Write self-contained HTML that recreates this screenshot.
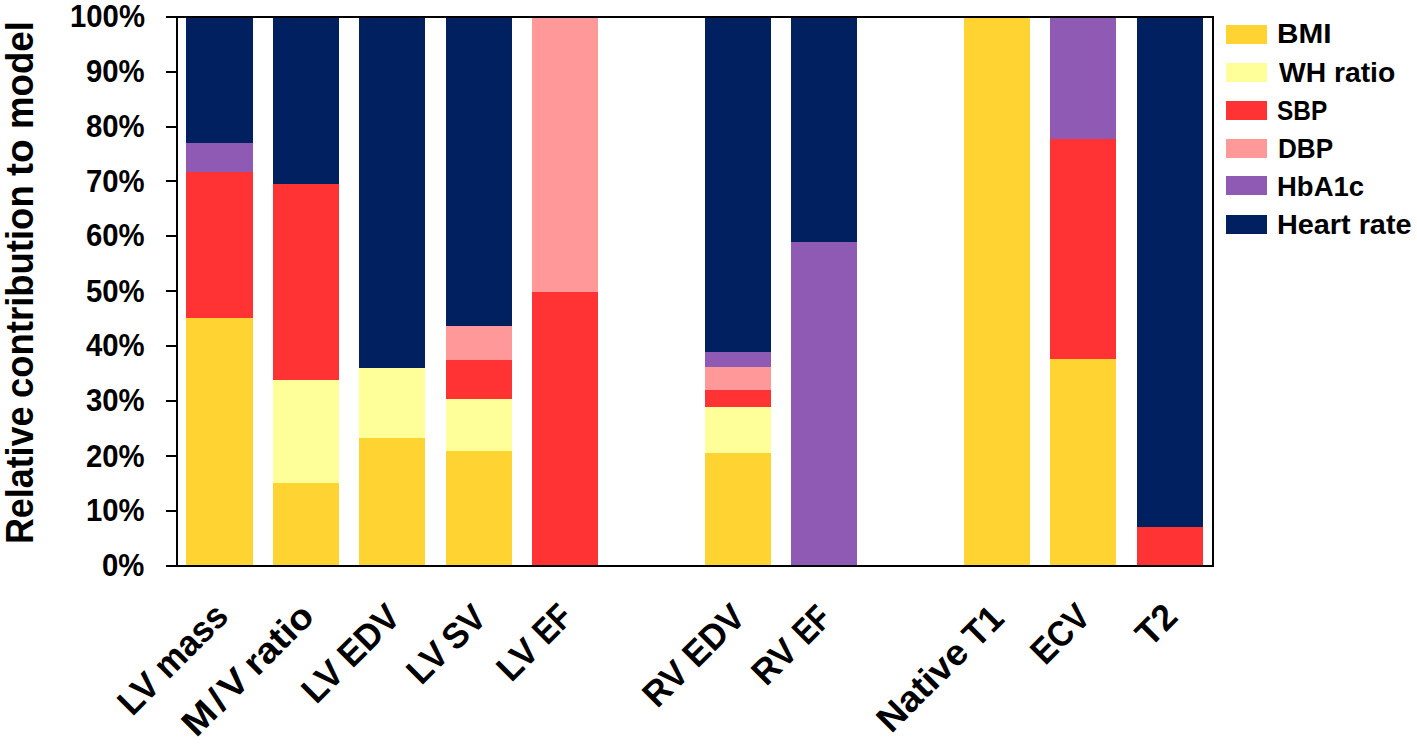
<!DOCTYPE html>
<html><head><meta charset="utf-8"><style>
html,body{margin:0;padding:0;background:#fff;}
body{width:1417px;height:744px;position:relative;overflow:hidden;font-family:"Liberation Sans",sans-serif;font-weight:bold;color:#000;}
.s{position:absolute;}
.fr{position:absolute;left:176px;top:16px;width:1034px;height:547px;border:2px solid #000;}
.tk{position:absolute;left:166px;width:10px;height:2px;background:#000;}
.sw{position:absolute;left:1226.3px;width:41.2px;height:19.2px;}
.t{position:absolute;white-space:nowrap;transform-origin:0 0;}
</style></head><body>
<div class="s" style="left:186.40px;top:17.00px;width:66.20px;height:548.50px;background:#002060"></div>
<div class="s" style="left:186.40px;top:142.60px;width:66.20px;height:422.90px;background:#8E5AB4"></div>
<div class="s" style="left:186.40px;top:171.80px;width:66.20px;height:393.70px;background:#FF3333"></div>
<div class="s" style="left:186.40px;top:318.40px;width:66.20px;height:247.10px;background:#FFD432"></div>
<div class="s" style="left:272.78px;top:17.00px;width:66.20px;height:548.50px;background:#002060"></div>
<div class="s" style="left:272.78px;top:184.40px;width:66.20px;height:381.10px;background:#FF3333"></div>
<div class="s" style="left:272.78px;top:379.70px;width:66.20px;height:185.80px;background:#FFFF99"></div>
<div class="s" style="left:272.78px;top:482.60px;width:66.20px;height:82.90px;background:#FFD432"></div>
<div class="s" style="left:359.16px;top:17.00px;width:66.20px;height:548.50px;background:#002060"></div>
<div class="s" style="left:359.16px;top:367.50px;width:66.20px;height:198.00px;background:#FFFF99"></div>
<div class="s" style="left:359.16px;top:437.90px;width:66.20px;height:127.60px;background:#FFD432"></div>
<div class="s" style="left:445.54px;top:17.00px;width:66.20px;height:548.50px;background:#002060"></div>
<div class="s" style="left:445.54px;top:326.40px;width:66.20px;height:239.10px;background:#FF9999"></div>
<div class="s" style="left:445.54px;top:359.50px;width:66.20px;height:206.00px;background:#FF3333"></div>
<div class="s" style="left:445.54px;top:399.00px;width:66.20px;height:166.50px;background:#FFFF99"></div>
<div class="s" style="left:445.54px;top:450.80px;width:66.20px;height:114.70px;background:#FFD432"></div>
<div class="s" style="left:531.92px;top:17.00px;width:66.20px;height:548.50px;background:#FF9999"></div>
<div class="s" style="left:531.92px;top:291.50px;width:66.20px;height:274.00px;background:#FF3333"></div>
<div class="s" style="left:704.68px;top:17.00px;width:66.20px;height:548.50px;background:#002060"></div>
<div class="s" style="left:704.68px;top:352.20px;width:66.20px;height:213.30px;background:#8E5AB4"></div>
<div class="s" style="left:704.68px;top:366.70px;width:66.20px;height:198.80px;background:#FF9999"></div>
<div class="s" style="left:704.68px;top:389.70px;width:66.20px;height:175.80px;background:#FF3333"></div>
<div class="s" style="left:704.68px;top:407.20px;width:66.20px;height:158.30px;background:#FFFF99"></div>
<div class="s" style="left:704.68px;top:453.40px;width:66.20px;height:112.10px;background:#FFD432"></div>
<div class="s" style="left:791.06px;top:17.00px;width:66.20px;height:548.50px;background:#002060"></div>
<div class="s" style="left:791.06px;top:241.50px;width:66.20px;height:324.00px;background:#8E5AB4"></div>
<div class="s" style="left:963.82px;top:17.00px;width:66.20px;height:548.50px;background:#FFD432"></div>
<div class="s" style="left:1050.20px;top:17.00px;width:66.20px;height:548.50px;background:#8E5AB4"></div>
<div class="s" style="left:1050.20px;top:138.90px;width:66.20px;height:426.60px;background:#FF3333"></div>
<div class="s" style="left:1050.20px;top:358.70px;width:66.20px;height:206.80px;background:#FFD432"></div>
<div class="s" style="left:1136.58px;top:17.00px;width:66.20px;height:548.50px;background:#002060"></div>
<div class="s" style="left:1136.58px;top:526.60px;width:66.20px;height:38.90px;background:#FF3333"></div>
<div class="fr"></div>
<div class="tk" style="top:564.70px"></div>
<div class="tk" style="top:509.80px"></div>
<div class="tk" style="top:454.90px"></div>
<div class="tk" style="top:400.00px"></div>
<div class="tk" style="top:345.10px"></div>
<div class="tk" style="top:290.20px"></div>
<div class="tk" style="top:235.30px"></div>
<div class="tk" style="top:180.40px"></div>
<div class="tk" style="top:125.50px"></div>
<div class="tk" style="top:70.60px"></div>
<div class="tk" style="top:15.70px"></div>
<div class="sw" style="top:24.60px;background:#FFD432"></div>
<div class="sw" style="top:62.60px;background:#FFFF99"></div>
<div class="sw" style="top:100.90px;background:#FF3333"></div>
<div class="sw" style="top:138.90px;background:#FF9999"></div>
<div class="sw" style="top:176.00px;background:#8E5AB4"></div>
<div class="sw" style="top:214.90px;background:#002060"></div>
<div class="t" style="left:101.90px;top:549.70px;font-size:31px;line-height:31px;transform:scaleX(0.9450)">0%</div>
<div class="t" style="left:85.90px;top:495.10px;font-size:31px;line-height:31px;transform:scaleX(0.9450)">10%</div>
<div class="t" style="left:85.90px;top:440.50px;font-size:31px;line-height:31px;transform:scaleX(0.9450)">20%</div>
<div class="t" style="left:85.90px;top:384.90px;font-size:31px;line-height:31px;transform:scaleX(0.9450)">30%</div>
<div class="t" style="left:85.90px;top:330.30px;font-size:31px;line-height:31px;transform:scaleX(0.9450)">40%</div>
<div class="t" style="left:85.90px;top:275.70px;font-size:31px;line-height:31px;transform:scaleX(0.9450)">50%</div>
<div class="t" style="left:85.90px;top:220.10px;font-size:31px;line-height:31px;transform:scaleX(0.9450)">60%</div>
<div class="t" style="left:85.90px;top:165.50px;font-size:31px;line-height:31px;transform:scaleX(0.9450)">70%</div>
<div class="t" style="left:85.90px;top:110.90px;font-size:31px;line-height:31px;transform:scaleX(0.9450)">80%</div>
<div class="t" style="left:85.90px;top:56.30px;font-size:31px;line-height:31px;transform:scaleX(0.9450)">90%</div>
<div class="t" style="left:69.90px;top:0.70px;font-size:31px;line-height:31px;transform:scaleX(0.9450)">100%</div>
<div class="t" style="left:1276.85px;top:18.75px;font-size:28.5px;line-height:28.5px;transform:scaleX(1.0444)">BMI</div>
<div class="t" style="left:1279.00px;top:58.00px;font-size:28.5px;line-height:28.5px;transform:scaleX(0.9917)">WH ratio</div>
<div class="t" style="left:1277.35px;top:95.70px;font-size:28.5px;line-height:28.5px;transform:scaleX(0.8565)">SBP</div>
<div class="t" style="left:1277.50px;top:134.20px;font-size:28.5px;line-height:28.5px;transform:scaleX(0.9167)">DBP</div>
<div class="t" style="left:1277.15px;top:172.35px;font-size:28.5px;line-height:28.5px;transform:scaleX(0.9643)">HbA1c</div>
<div class="t" style="left:1277.10px;top:210.10px;font-size:28.5px;line-height:28.5px;transform:scaleX(1.0108)">Heart rate</div>
<div class="t" style="left:1.45px;top:129.20px;font-size:38px;line-height:38px;transform:rotate(-90deg) scaleX(0.9645)">model</div>
<div class="t" style="left:1.45px;top:176.15px;font-size:38px;line-height:38px;transform:rotate(-90deg) scaleX(1.0195)">to</div>
<div class="t" style="left:1.45px;top:397.75px;font-size:38px;line-height:38px;transform:rotate(-90deg) scaleX(0.9596)">contribution</div>
<div class="t" style="left:1.45px;top:544.45px;font-size:38px;line-height:38px;transform:rotate(-90deg) scaleX(0.9427)">Relative</div>
<div class="t" style="left:110.55px;top:696.25px;font-size:36px;line-height:36px;transform:rotate(-45deg) scaleX(0.9757)">LV</div>
<div class="t" style="left:147.25px;top:658.70px;font-size:36px;line-height:36px;transform:rotate(-45deg) scaleX(0.9511)">mass</div>
<div class="t" style="left:175.20px;top:717.45px;font-size:36px;line-height:36px;transform:rotate(-45deg) scaleX(1.1000);letter-spacing:3.45px">M/V</div>
<div class="t" style="left:236.20px;top:656.30px;font-size:36px;line-height:36px;transform:rotate(-45deg) scaleX(1.0661)">ratio</div>
<div class="t" style="left:294.75px;top:684.25px;font-size:36px;line-height:36px;transform:rotate(-45deg) scaleX(0.9757)">LV</div>
<div class="t" style="left:331.15px;top:648.15px;font-size:36px;line-height:36px;transform:rotate(-45deg) scaleX(0.9564)">EDV</div>
<div class="t" style="left:399.80px;top:665.05px;font-size:36px;line-height:36px;transform:rotate(-45deg) scaleX(0.9639)">LV</div>
<div class="t" style="left:435.40px;top:630.90px;font-size:36px;line-height:36px;transform:rotate(-45deg) scaleX(0.9510)">SV</div>
<div class="t" style="left:490.30px;top:661.65px;font-size:36px;line-height:36px;transform:rotate(-45deg) scaleX(0.9718)">LV</div>
<div class="t" style="left:526.15px;top:625.05px;font-size:36px;line-height:36px;transform:rotate(-45deg) scaleX(0.8422)">EF</div>
<div class="t" style="left:635.80px;top:687.65px;font-size:36px;line-height:36px;transform:rotate(-45deg) scaleX(0.9605)">RV</div>
<div class="t" style="left:676.35px;top:648.15px;font-size:36px;line-height:36px;transform:rotate(-45deg) scaleX(0.9564)">EDV</div>
<div class="t" style="left:744.75px;top:665.90px;font-size:36px;line-height:36px;transform:rotate(-45deg) scaleX(0.9603)">RV</div>
<div class="t" style="left:786.00px;top:624.80px;font-size:36px;line-height:36px;transform:rotate(-45deg) scaleX(0.7962)">EF</div>
<div class="t" style="left:870.45px;top:713.45px;font-size:36px;line-height:36px;transform:rotate(-45deg) scaleX(1.0407)">Native</div>
<div class="t" style="left:956.35px;top:627.65px;font-size:36px;line-height:36px;transform:rotate(-45deg) scaleX(0.9688)">T1</div>
<div class="t" style="left:1023.75px;top:644.65px;font-size:36px;line-height:36px;transform:rotate(-45deg) scaleX(0.9020)">ECV</div>
<div class="t" style="left:1128.55px;top:627.45px;font-size:36px;line-height:36px;transform:rotate(-45deg) scaleX(0.9879)">T2</div>
</body></html>
